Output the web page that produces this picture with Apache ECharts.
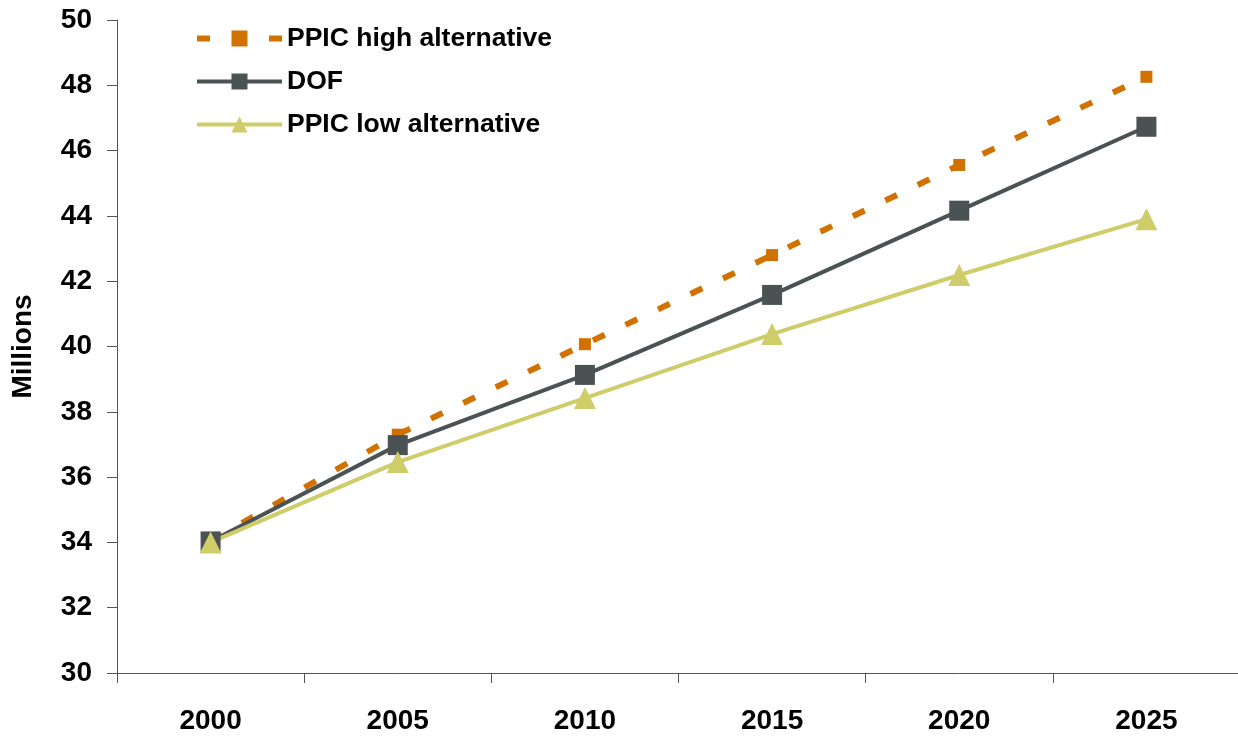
<!DOCTYPE html>
<html><head><meta charset="utf-8">
<script src="https://cdn.jsdelivr.net/npm/echarts@6/dist/echarts.min.js"></script>
<style>html,body{margin:0;padding:0;background:#fff}#c{width:1238px;height:738px}</style>
</head><body><div id="c"></div>
<script>
const categories = ['2000','2005','2010','2015','2020','2025'];
const ppicHigh = [34.05, 37.3, 40.07, 42.8, 45.56, 48.26];
const dof = [34.03, 36.98, 39.13, 41.58, 44.16, 46.73];
const ppicLow = [34.0, 36.46, 38.42, 40.38, 42.19, 43.9];
const seriesNames = ['PPIC high alternative', 'DOF', 'PPIC low alternative'];

const font = 'Liberation Sans, Arial, sans-serif';
const chart = echarts.init(document.getElementById('c'), null, {renderer: 'canvas'});
chart.setOption({
  animation: false,
  backgroundColor: '#fff',
  grid: {left: 117, top: 20, width: 1123, bottom: 65, containLabel: false, outerBoundsMode: 'none'},
  legend: {
    orient: 'vertical', left: 194, top: 25, padding: 0,
    itemWidth: 85, itemHeight: 20, itemGap: 16,
    lineStyle: {width: 'inherit'},
    textStyle: {fontFamily: font, fontWeight: 'bold', fontSize: 26.5, color: '#000'},
    data: seriesNames
  },
  xAxis: {
    type: 'category', data: categories, boundaryGap: true,
    axisLine: {lineStyle: {color: '#555', width: 1}},
    axisTick: {show: true, length: 10, lineStyle: {color: '#555'}},
    axisLabel: {margin: 34, fontFamily: font, fontWeight: 'bold', fontSize: 28, color: '#000'}
  },
  yAxis: {
    type: 'value', min: 30, max: 50, interval: 2,
    name: 'Millions', nameLocation: 'middle', nameGap: 80, nameRotate: 90, nameMoveOverlap: false,
    nameTextStyle: {fontFamily: font, fontWeight: 'bold', fontSize: 28, color: '#000'},
    axisLine: {show: true, lineStyle: {color: '#555', width: 1}},
    axisTick: {show: true, length: 10, lineStyle: {color: '#555'}},
    splitLine: {show: false},
    axisLabel: {margin: 25, fontFamily: font, fontWeight: 'bold', fontSize: 28, color: '#000'}
  },
  series: [
    {name: seriesNames[0], type: 'line', data: ppicHigh, symbol: 'rect', symbolSize: 12,
     itemStyle: {color: '#D17100'}, lineStyle: {color: '#D17100', width: 6, type: [13, 23]}},
    {name: seriesNames[1], type: 'line', data: dof, symbol: 'rect', symbolSize: 20,
     itemStyle: {color: '#4A5254'}, lineStyle: {color: '#4A5254', width: 4}},
    {name: seriesNames[2], type: 'line', data: ppicLow, symbol: 'triangle', symbolSize: 22,
     itemStyle: {color: '#CFCC6A'}, lineStyle: {color: '#CFCC6A', width: 4}}
  ]
});
</script></body></html>
